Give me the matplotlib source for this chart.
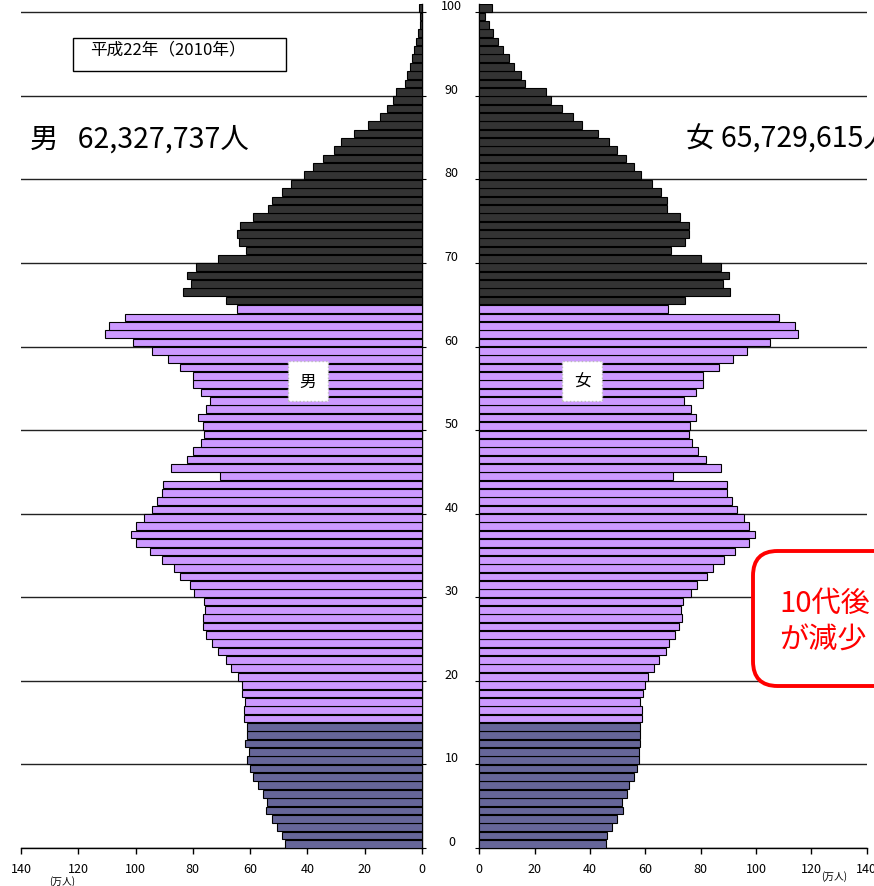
"""
Population pyramid, Japan 2010 (平成22年), by single year of age
Values in 万人 read off the reference picture.
"""

import matplotlib
matplotlib.use("Agg")
import matplotlib.pyplot as plt
from matplotlib.patches import Rectangle, FancyBboxPatch

plt.rcParams["font.family"] = ["Noto Sans CJK JP", "DejaVu Sans"]

# ── 1. Data ───────────────────────────────────────────────────────
ages = list(range(0, 101))          # 100 = 100歳以上

male = [
    48.0, 49.0, 50.7, 52.3, 54.4, 54.1, 55.6, 57.3, 58.9, 60.0,      # 0-9
    61.2, 60.5, 61.8, 61.2, 61.2, 62.2, 62.2, 61.8, 62.8, 62.8,      # 10-19
    64.3, 66.7, 68.6, 71.1, 73.3, 75.4, 76.6, 76.6, 75.6, 76.2,      # 20-29
    79.5, 81.0, 84.4, 86.7, 90.6, 94.9, 99.9, 101.5, 99.9, 97.1,     # 30-39
    94.3, 92.4, 90.9, 90.3, 70.5, 87.6, 82.2, 80.1, 77.2, 76.0,      # 40-49
    76.6, 78.3, 75.4, 73.9, 77.2, 80.1, 79.8, 84.4, 88.8, 94.3,      # 50-59
    101.0, 110.7, 109.2, 103.6, 64.6, 68.4, 83.3, 80.7, 82.2, 78.9,  # 60-69
    71.3, 61.4, 64.0, 64.6, 63.4, 59.1, 53.8, 52.3, 48.8, 45.7,      # 70-79
    41.3, 37.9, 34.6, 30.8, 28.2, 23.8, 18.8, 14.8, 12.2, 10.1,      # 80-89
    9.0, 6.1, 5.1, 4.1, 3.6, 2.9, 2.2, 1.4, 0.8, 0.6,                # 90-99
    1.0,                                                             # 100+
]

female = [
    45.8, 46.3, 47.8, 49.6, 51.8, 51.4, 53.3, 54.2, 55.9, 57.1,      # 0-9
    57.7, 57.7, 58.2, 58.1, 58.1, 58.7, 58.7, 58.1, 59.3, 59.9,      # 10-19
    61.1, 63.3, 64.9, 67.3, 68.6, 70.8, 72.3, 73.1, 72.9, 73.7,      # 20-29
    76.5, 78.8, 82.2, 84.3, 88.4, 92.4, 97.6, 99.6, 97.6, 95.7,      # 30-39
    93.0, 91.2, 89.6, 89.6, 70.1, 87.3, 81.8, 79.2, 77.0, 75.8,      # 40-49
    76.1, 78.2, 76.4, 74.1, 78.2, 81.0, 81.0, 86.7, 91.8, 96.9,      # 50-59
    105.1, 115.3, 114.1, 108.4, 68.3, 74.2, 90.7, 88.0, 90.1, 87.2,  # 60-69
    80.0, 69.2, 74.3, 75.9, 75.9, 72.5, 68.0, 68.0, 65.6, 62.3,      # 70-79
    58.3, 55.9, 53.0, 49.6, 46.9, 42.8, 37.2, 33.7, 29.8, 25.8,      # 80-89
    24.1, 16.6, 14.9, 12.5, 10.8, 8.4, 6.9, 5.1, 3.4, 2.1,           # 90-99
    4.5,                                                             # 100+
]

age_ticks  = list(range(0, 101, 10))
pop_ticks  = list(range(0, 141, 20))
male_total   = "男   62,327,737人"
female_total = "女 65,729,615人"
title_text   = "平成22年（2010年）"
note_lines   = ["10代後", "が減少"]

# ── 2. Colours by age group ───────────────────────────────────────
C_CHILD  = "#666699"   # 0-14
C_WORK   = "#CC99FF"   # 15-64
C_ELDER  = "#333333"   # 65+

def age_colour(a):
    if a < 15:  return C_CHILD
    if a < 65:  return C_WORK
    return C_ELDER

colours = [age_colour(a) for a in ages]
y_pos   = [a + 0.5 for a in ages]

# ── 3. Figure / axes ──────────────────────────────────────────────
W, H = 874, 887
fig = plt.figure(figsize=(W / 100, H / 100), dpi=100)

def fx(px): return px / W
def fy(py): return 1 - py / H

bottom = fy(849)
height = (849 - 5) / H
ax_l = fig.add_axes([fx(21), bottom, fx(422) - fx(21), height])
ax_r = fig.add_axes([fx(479.3), bottom, fx(866.7) - fx(479.3), height])

ax_l.barh(y_pos, male, height=0.92, color=colours, edgecolor="black",
          linewidth=0.8, zorder=3)
ax_r.barh(y_pos, female, height=0.92, color=colours, edgecolor="black",
          linewidth=0.8, zorder=3)

for ax in (ax_l, ax_r):
    ax.set_ylim(0, 101)
    ax.set_xticks(pop_ticks)
    ax.set_yticks(age_ticks)
    ax.grid(axis="y", color="#222222", linewidth=1.0, zorder=0)
    ax.set_axisbelow(True)
    ax.spines["top"].set_visible(False)
    ax.tick_params(axis="x", direction="out", length=4, width=1,
                   labelsize=9, pad=6)
    for s in ax.spines.values():
        s.set_linewidth(1.0)

# left (male) — mirrored
ax_l.set_xlim(140, 0)
ax_l.spines["left"].set_visible(False)
ax_l.yaxis.tick_right()
ax_l.tick_params(axis="y", direction="out", length=3, labelright=False)

# right (female) — age labels in the gap
ax_r.set_xlim(0, 140)
ax_r.spines["right"].set_visible(False)
ax_r.tick_params(axis="y", direction="out", length=3, pad=17, labelsize=9)
for lbl in ax_r.get_yticklabels():
    lbl.set_horizontalalignment("center")
    lbl.set_verticalalignment("bottom")

# ── 4. Annotations ────────────────────────────────────────────────
fig.text(fx(62), fy(882), "(万人)", fontsize=7, ha="center", va="center")
fig.text(fx(834), fy(877), "(万人)", fontsize=7, ha="center", va="center")

fig.add_artist(Rectangle((fx(72.7), fy(72)), fx(286) - fx(72.7), 33 / H,
                         transform=fig.transFigure, facecolor="white",
                         edgecolor="black", linewidth=1.0))
fig.text(fx(90), fy(50), title_text, fontsize=12, va="center", ha="left")

fig.text(fx(30), fy(140), male_total, fontsize=20.5, va="center", ha="left")
fig.text(fx(686), fy(140), female_total, fontsize=20.5, va="center", ha="left")

box = dict(boxstyle="square,pad=0.7", facecolor="white",
           edgecolor="#bbbbbb", linestyle=":", linewidth=1)
fig.text(fx(308), fy(382), "男", fontsize=12, ha="center", va="center", bbox=box)
fig.text(fx(582), fy(382), "女", fontsize=12, ha="center", va="center", bbox=box)

fig.add_artist(FancyBboxPatch((fx(753), fy(687)), 0.3, 135 / H,
                              boxstyle="round,pad=0,rounding_size=0.028",
                              transform=fig.transFigure, facecolor="white",
                              edgecolor="#FF0000", linewidth=2.8))
fig.text(fx(779), fy(604), note_lines[0], fontsize=21, color="#FF0000",
         va="center", ha="left")
fig.text(fx(779), fy(641), note_lines[1], fontsize=21, color="#FF0000",
         va="center", ha="left")

fig.savefig("out.png", dpi=100)
plt.close(fig)
